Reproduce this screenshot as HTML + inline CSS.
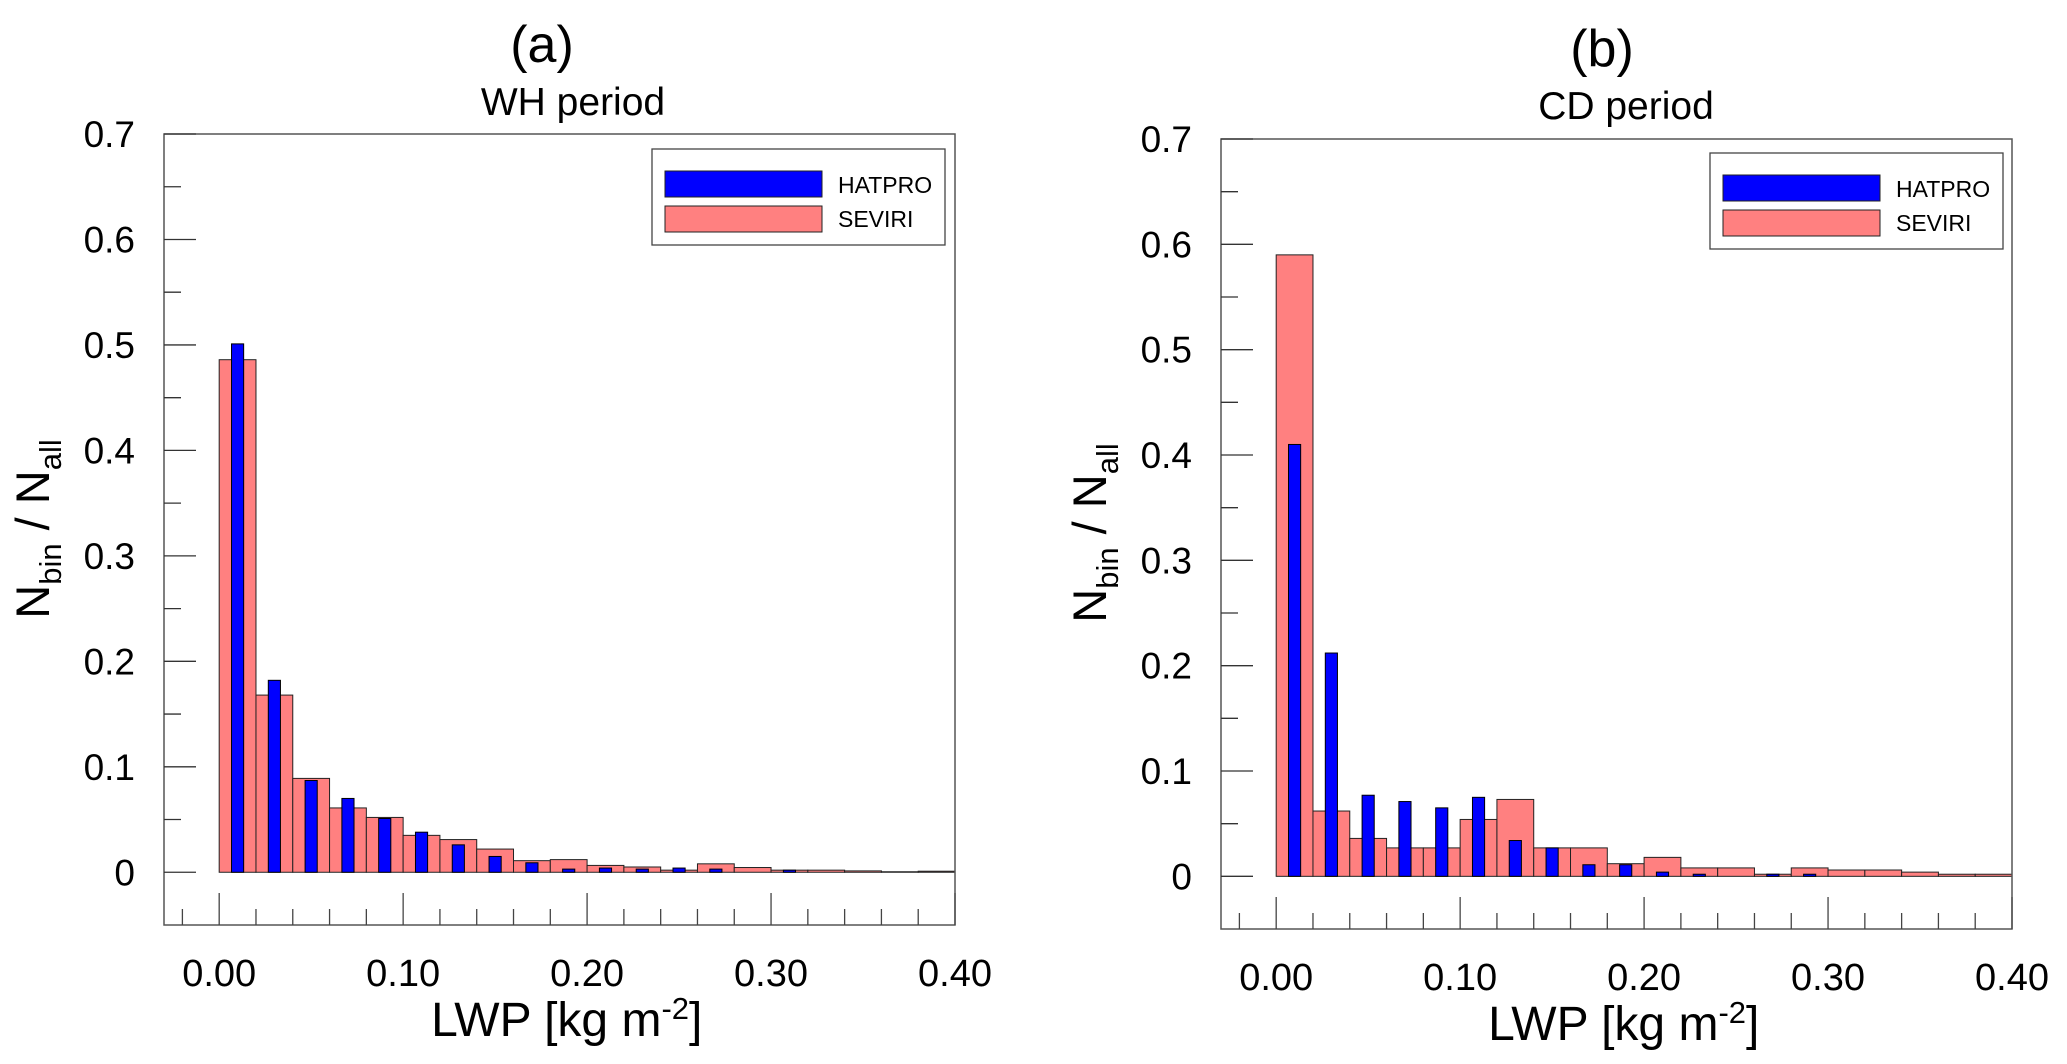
<!DOCTYPE html>
<html><head><meta charset="utf-8">
<style>
html,body{margin:0;padding:0;background:#fff;}
svg{display:block;font-family:"Liberation Sans",Arial,sans-serif;}
</style></head>
<body>
<svg id="chart" width="2067" height="1064" viewBox="0 0 2067 1064" xmlns="http://www.w3.org/2000/svg"></svg>
<script>
const binStarts = [0,0.02,0.04,0.06,0.08,0.10,0.12,0.14,0.16,0.18,0.20,0.22,0.24,0.26,0.28,0.30,0.32,0.34,0.36,0.38];
const whSeviri = [0.486,0.168,0.089,0.061,0.052,0.035,0.031,0.022,0.011,0.012,0.0065,0.005,0.002,0.008,0.0045,0.002,0.002,0.0013,0.0005,0.001];
const whHatpro = [0.501,0.182,0.087,0.070,0.051,0.038,0.026,0.015,0.009,0.003,0.004,0.003,0.004,0.003,0,0.002,0,0,0,0];
const cdSeviri = [0.59,0.062,0.036,0.027,0.027,0.054,0.073,0.027,0.027,0.012,0.018,0.008,0.008,0.002,0.008,0.006,0.006,0.004,0.002,0.002];
const cdHatpro = [0.41,0.212,0.077,0.071,0.065,0.075,0.034,0.027,0.011,0.011,0.004,0.002,0,0.002,0.002,0,0,0,0,0];
const yTicks = [0,0.1,0.2,0.3,0.4,0.5,0.6,0.7];
const yTickLabels = ["0","0.1","0.2","0.3","0.4","0.5","0.6","0.7"];
const xTicks = [0,0.1,0.2,0.3,0.4];
const xTickLabels = ["0.00","0.10","0.20","0.30","0.40"];

const NS="http://www.w3.org/2000/svg";
const svg=document.getElementById('chart');
function mk(tag,attrs,parent){const e=document.createElementNS(NS,tag);for(const k in attrs)e.setAttribute(k,attrs[k]);(parent||svg).appendChild(e);return e;}

function panel(p){
  const g=mk('g',{});
  
  
  const X=v=>p.L+(v-(-0.03))/(0.43)*(p.R-p.L);
  const Y=v=>p.B-(v-(-0.05))/(0.75)*(p.B-p.T);
  binStarts.forEach((s,i)=>{
    const r=mk('rect',{x:X(s),y:Y(p.sev[i]),width:X(s+0.02)-X(s),height:Y(0)-Y(p.sev[i]),fill:'#ff8080',stroke:'#222','stroke-width':1},g);
    
    
  });
  binStarts.forEach((s,i)=>{
    if(p.hat[i]<=0)return;
    const c=s+0.01;
    const r=mk('rect',{x:X(c-0.0033),y:Y(p.hat[i]),width:X(c+0.0033)-X(c-0.0033),height:Y(0)-Y(p.hat[i]),fill:'#0000ff',stroke:'#000','stroke-width':1},g);
    
    
  });
  const f=mk('rect',{x:p.L,y:p.T,width:p.R-p.L,height:p.B-p.T,fill:'none',stroke:'#555','stroke-width':1.5},g);
  
  
  for(let k=0;k<=14;k++){const v=k*0.05;const len=(k%2==0)?32:17;
    mk('line',{x1:p.L,x2:p.L+len,y1:Y(v),y2:Y(v),stroke:'#333','stroke-width':1.3},g);}
  yTicks.forEach((v,i)=>{const t=mk('text',{x:p.ylx,y:Y(v)+13,'text-anchor':'end','font-size':37,fill:'#000'},g);t.textContent=yTickLabels[i];
    });
  for(let k=-1;k<=20;k++){const v=k*0.02;const len=(k%5==0)?32:16;
    mk('line',{x1:X(v),x2:X(v),y1:p.B,y2:p.B-len,stroke:'#444','stroke-width':1.3},g);}
  xTicks.forEach((v,i)=>{const t=mk('text',{x:X(v),y:p.xly,'text-anchor':'middle','font-size':38,fill:'#000'},g);t.textContent=xTickLabels[i];
    });
  let t=mk('text',{x:p.lx,y:p.ly,'text-anchor':'middle','font-size':52},g);t.textContent=p.letter;
  
  t=mk('text',{x:p.tx,y:p.ty,'text-anchor':'middle','font-size':39},g);t.textContent=p.title;
  
  t=mk('text',{x:X(0)+212,y:p.xty,'text-anchor':'start','font-size':48},g);
  t.innerHTML='LWP  [kg m<tspan dy="-17" font-size="31">-2</tspan><tspan dy="17">]</tspan>';
  t.setAttribute('xml:space','preserve');
  
  t=mk('text',{x:0,y:0,'text-anchor':'middle','font-size':47,transform:`translate(${p.ytx},${p.yty}) rotate(-90)`},g);
  t.innerHTML='N<tspan dy="12" font-size="31">bin</tspan><tspan dy="-12"> / N</tspan><tspan dy="12" font-size="31">all</tspan>';
  
  const lg=mk('g',{},g);
  
  
  mk('rect',{x:p.lgx,y:p.lgy,width:293,height:96,fill:'#fff',stroke:'#444','stroke-width':1.3},lg);
  const e1=mk('rect',{x:p.lgx+13,y:p.lgy+22,width:157,height:26,fill:'#0000ff',stroke:'#222','stroke-width':1},lg);
  
  const e2=mk('rect',{x:p.lgx+13,y:p.lgy+57,width:157,height:26,fill:'#ff8080',stroke:'#222','stroke-width':1},lg);
  
  t=mk('text',{x:p.lgx+186,y:p.lgy+44,'font-size':23},lg);t.textContent='HATPRO';
  
  t=mk('text',{x:p.lgx+186,y:p.lgy+78,'font-size':23},lg);t.textContent='SEVIRI';
  
}
panel({name:'panel-a-wh-period',L:164,R:955,T:134,B:925,sev:whSeviri,hat:whHatpro,ylx:135,xly:986,
  lx:542,ly:62,letter:'(a)',tx:573,ty:115,title:'WH period',xty:1036,ytx:49,yty:529,lgx:652,lgy:149});
panel({name:'panel-b-cd-period',L:1221,R:2012,T:139,B:929,sev:cdSeviri,hat:cdHatpro,ylx:1192,xly:990,
  lx:1602,ly:66,letter:'(b)',tx:1626,ty:119,title:'CD period',xty:1040,ytx:1106,yty:533,lgx:1710,lgy:153});
</script>
</body></html>
